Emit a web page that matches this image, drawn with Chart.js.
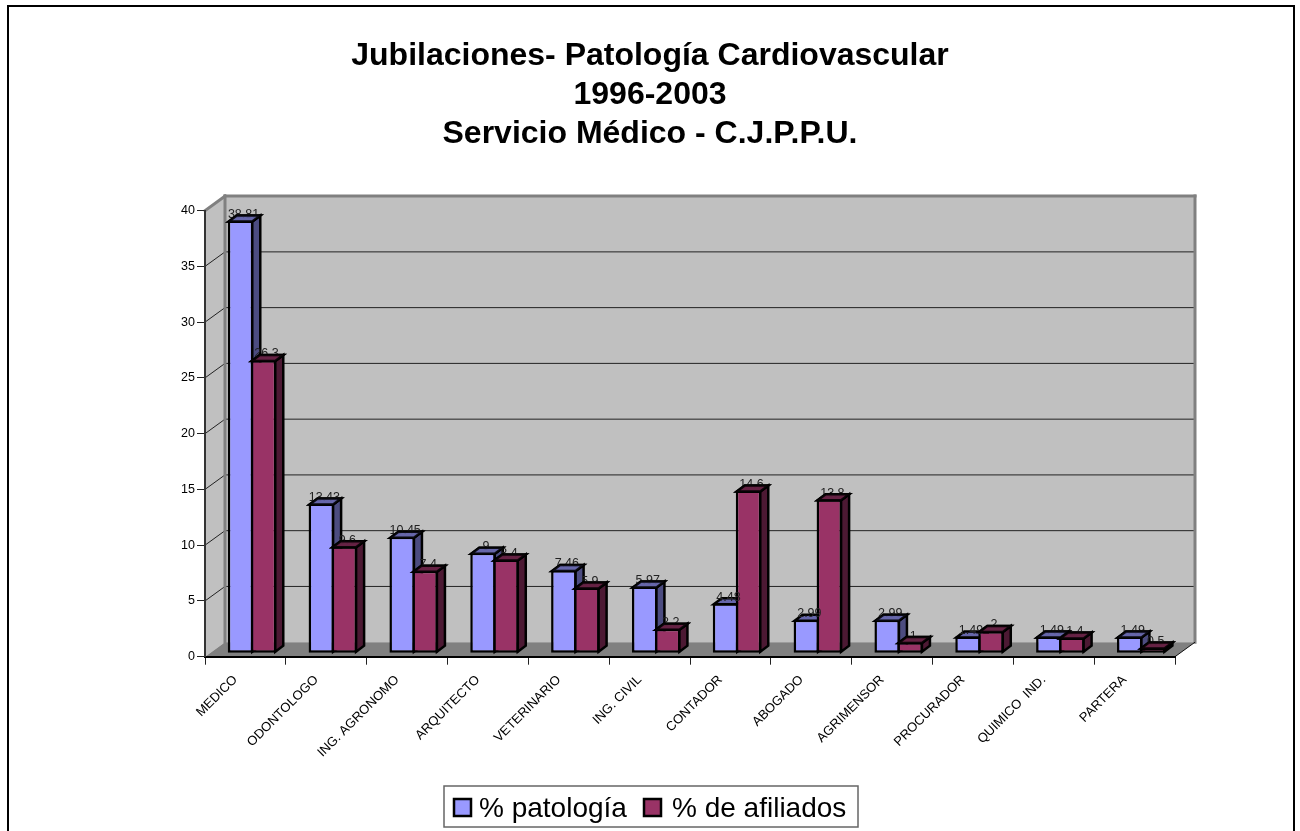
<!DOCTYPE html>
<html>
<head>
<meta charset="utf-8">
<title>Jubilaciones - Patología Cardiovascular</title>
<script src="https://cdn.jsdelivr.net/npm/chart.js@4"></script>
<style>
html, body { margin: 0; padding: 0; background: #fff; overflow: hidden; }
#wrap { width: 1300px; height: 831px; position: relative; }
</style>
</head>
<body>
<div id="wrap"><canvas id="chart" width="1300" height="831"></canvas></div>
<script>
const titleLines = ['Jubilaciones- Patología Cardiovascular', '1996-2003', 'Servicio Médico - C.J.P.P.U.'];
const categories = ['MEDICO', 'ODONTOLOGO', 'ING. AGRONOMO', 'ARQUITECTO', 'VETERINARIO', 'ING. CIVIL',
    'CONTADOR', 'ABOGADO', 'AGRIMENSOR', 'PROCURADOR', 'QUIMICO  IND.', 'PARTERA'];
const patologia = [38.81, 13.43, 10.45, 9, 7.46, 5.97, 4.48, 2.99, 2.99, 1.49, 1.49, 1.49];
const afiliados = [26.3, 9.6, 7.4, 8.4, 5.9, 2.2, 14.6, 13.8, 1, 2, 1.4, 0.5];

// depth of the fake 3D box (wall is pushed back by this much)
const WALL_DX = 20, WALL_DY = -14.5;
const BAR_DX = 8, BAR_DY = -6;

const sideColors = ['#4c4c80', '#4c1933'];
const topColors = ['#6666aa', '#662244'];
const FONT = '"Liberation Sans", Arial, sans-serif';

function poly(ctx, pts, fill, stroke, lw) {
    ctx.beginPath();
    pts.forEach((p, i) => i ? ctx.lineTo(p[0], p[1]) : ctx.moveTo(p[0], p[1]));
    ctx.closePath();
    if (fill) { ctx.fillStyle = fill; ctx.fill(); }
    if (stroke) { ctx.strokeStyle = stroke; ctx.lineWidth = lw; ctx.lineJoin = 'miter'; ctx.stroke(); }
}

function line(ctx, x1, y1, x2, y2, color, lw) {
    ctx.beginPath();
    ctx.moveTo(x1, y1);
    ctx.lineTo(x2, y2);
    ctx.strokeStyle = color;
    ctx.lineWidth = lw;
    ctx.stroke();
}

// ============ WALLS AND FLOOR ============
const wallPlugin = {
    id: 'walls',
    beforeDraw(chart) {
        const { ctx, chartArea: a, scales } = chart;
        const y = scales.y;
        ctx.save();
        // outer frame, the bottom runs off the page
        ctx.strokeStyle = '#000';
        ctx.lineWidth = 2;
        ctx.strokeRect(8, 6, 1286, 840);

        poly(ctx, [[a.left, a.bottom], [a.left, a.top], [a.left + WALL_DX, a.top + WALL_DY], [a.left + WALL_DX, a.bottom + WALL_DY]], '#c0c0c0');
        poly(ctx, [[a.left + WALL_DX, a.top + WALL_DY], [a.right + WALL_DX, a.top + WALL_DY], [a.right + WALL_DX, a.bottom + WALL_DY], [a.left + WALL_DX, a.bottom + WALL_DY]], '#c0c0c0');
        poly(ctx, [[a.left, a.bottom], [a.right, a.bottom], [a.right + WALL_DX, a.bottom + WALL_DY], [a.left + WALL_DX, a.bottom + WALL_DY]], '#808080');

        y.ticks.forEach(t => {
            if (t.value === 0 || t.value === 40) return;
            const py = y.getPixelForValue(t.value);
            line(ctx, a.left, py, a.left + WALL_DX, py + WALL_DY, '#222', 1);
            line(ctx, a.left + WALL_DX, py + WALL_DY, a.right + WALL_DX, py + WALL_DY, '#222', 1);
        });

        // heavy grey edges of the wall
        ctx.lineCap = 'square';
        line(ctx, a.left + WALL_DX, a.top + WALL_DY, a.right + WALL_DX, a.top + WALL_DY, '#808080', 3);
        line(ctx, a.left + WALL_DX, a.top + WALL_DY, a.left + WALL_DX, a.bottom + WALL_DY, '#808080', 3);
        line(ctx, a.right + WALL_DX, a.top + WALL_DY, a.right + WALL_DX, a.bottom + WALL_DY, '#808080', 3);
        line(ctx, a.left, a.top, a.left + WALL_DX, a.top + WALL_DY, '#808080', 3);
        ctx.lineCap = 'butt';
        line(ctx, a.right, a.bottom, a.right + WALL_DX, a.bottom + WALL_DY, '#111', 1);
        ctx.restore();
    }
};

// ============ BAR DEPTH AND VALUE LABELS ============
function topFace(ctx, bar, i) {
    const l = bar.x - bar.width / 2, r = bar.x + bar.width / 2, t = bar.y;
    poly(ctx, [[l + 1, t + 1], [l + 1 + BAR_DX, t + 1 + BAR_DY], [r - 1 + BAR_DX, t + 1 + BAR_DY], [r - 1, t + 1]], topColors[i], '#000', 2.5);
}

function drawDepth(chart, i) {
    const { ctx } = chart;
    chart.getDatasetMeta(i).data.forEach(bar => {
        const r = bar.x + bar.width / 2, t = bar.y, b = bar.base;
        poly(ctx, [[r - 1, b - 1], [r - 1 + BAR_DX, b - 1 + BAR_DY], [r - 1 + BAR_DX, t + 1 + BAR_DY], [r - 1, t + 1]], sideColors[i], '#000', 2.5);
        topFace(ctx, bar, i);
    });
}

function drawLabels(chart) {
    const { ctx } = chart;
    ctx.fillStyle = '#222';
    ctx.font = '12.5px ' + FONT;
    ctx.textAlign = 'center';
    ctx.textBaseline = 'middle';
    chart.data.datasets.forEach((ds, i) => {
        chart.getDatasetMeta(i).data.forEach((bar, k) => {
            ctx.fillStyle = '#222';
            ctx.fillText(String(ds.data[k]), bar.x + 3, bar.y - 6);
        });
    });
    // the top faces wash over the lower half of the text, except a top the next bar hides
    ctx.globalAlpha = 0.85;
    chart.data.datasets.forEach((ds, i) => {
        chart.getDatasetMeta(i).data.forEach((bar, k) => {
            if (i === 0 && afiliados[k] > patologia[k]) return;
            topFace(ctx, bar, i);
        });
    });
    ctx.globalAlpha = 1;
}

const depthPlugin = {
    id: 'depth',
    // the first series has to go down first so the second one covers its side face
    beforeDatasetsDraw(chart) {
        const { ctx } = chart;
        ctx.save();
        ctx.translate(6.6, -3.5);
        chart.data.datasets.forEach((ds, i) => {
            chart.getDatasetMeta(i).controller.draw();
            drawDepth(chart, i);
        });
        drawLabels(chart);
        ctx.restore();
        return false;
    }
};

// ============ LEGEND ============
const legendPlugin = {
    id: 'boxLegend',
    afterDraw(chart) {
        const { ctx } = chart;
        const swatchX = [454, 644];
        const textX = [479, 672];
        ctx.save();
        ctx.strokeStyle = '#666';
        ctx.lineWidth = 1.5;
        ctx.strokeRect(444, 786, 414, 41);
        ctx.font = '28px ' + FONT;
        ctx.textAlign = 'left';
        ctx.textBaseline = 'alphabetic';
        chart.data.datasets.forEach((ds, i) => {
            ctx.fillStyle = ds.backgroundColor;
            ctx.fillRect(swatchX[i], 799, 17, 17);
            ctx.strokeStyle = '#000';
            ctx.lineWidth = 2.5;
            ctx.strokeRect(swatchX[i], 799, 17, 17);
            ctx.fillStyle = '#000';
            ctx.fillText(ds.label, textX[i], 817);
        });
        ctx.restore();
    }
};

new Chart(document.getElementById('chart').getContext('2d'), {
    type: 'bar',
    data: {
        labels: categories,
        datasets: [
            { label: '% patología', data: patologia, backgroundColor: '#9999ff', borderColor: '#000', borderWidth: 2.5, borderSkipped: false },
            { label: '% de afiliados', data: afiliados, backgroundColor: '#993366', borderColor: '#000', borderWidth: 2.5, borderSkipped: false }
        ]
    },
    options: {
        responsive: false,
        animation: false,
        datasets: { bar: { categoryPercentage: 0.569, barPercentage: 1.109 } },
        plugins: {
            legend: { display: false },
            tooltip: { enabled: false },
            title: {
                display: true,
                text: titleLines,
                color: '#000',
                font: { family: FONT, size: 32, weight: 'bold', lineHeight: 1.22 },
                padding: { top: 36.5, bottom: 57 }
            }
        },
        scales: {
            x: {
                afterFit(scale) { scale.height = 174.3; },
                border: { color: '#000', width: 2 },
                grid: { offset: true, drawOnChartArea: false, drawTicks: true, tickLength: 8, color: '#222' },
                ticks: {
                    color: '#000',
                    font: { family: FONT, size: 13 },
                    minRotation: 45,
                    maxRotation: 45,
                    labelOffset: -10,
                    padding: 7.5,
                    autoSkip: false
                }
            },
            y: {
                min: 0,
                max: 40,
                afterFit(scale) { scale.width = 205; },
                border: { color: '#333', width: 2 },
                grid: { drawOnChartArea: false, drawTicks: true, tickLength: 8, color: '#222' },
                ticks: {
                    stepSize: 5,
                    color: '#000',
                    font: { family: FONT, size: 12.5 },
                    padding: 2
                }
            },
            // empty axis, only keeps the margin on the right so the title stays centred on the page
            spacer: {
                position: 'right',
                afterFit(scale) { scale.width = 125; },
                border: { display: false },
                grid: { display: false },
                ticks: { display: false }
            }
        }
    },
    plugins: [wallPlugin, depthPlugin, legendPlugin]
});
</script>
</body>
</html>
